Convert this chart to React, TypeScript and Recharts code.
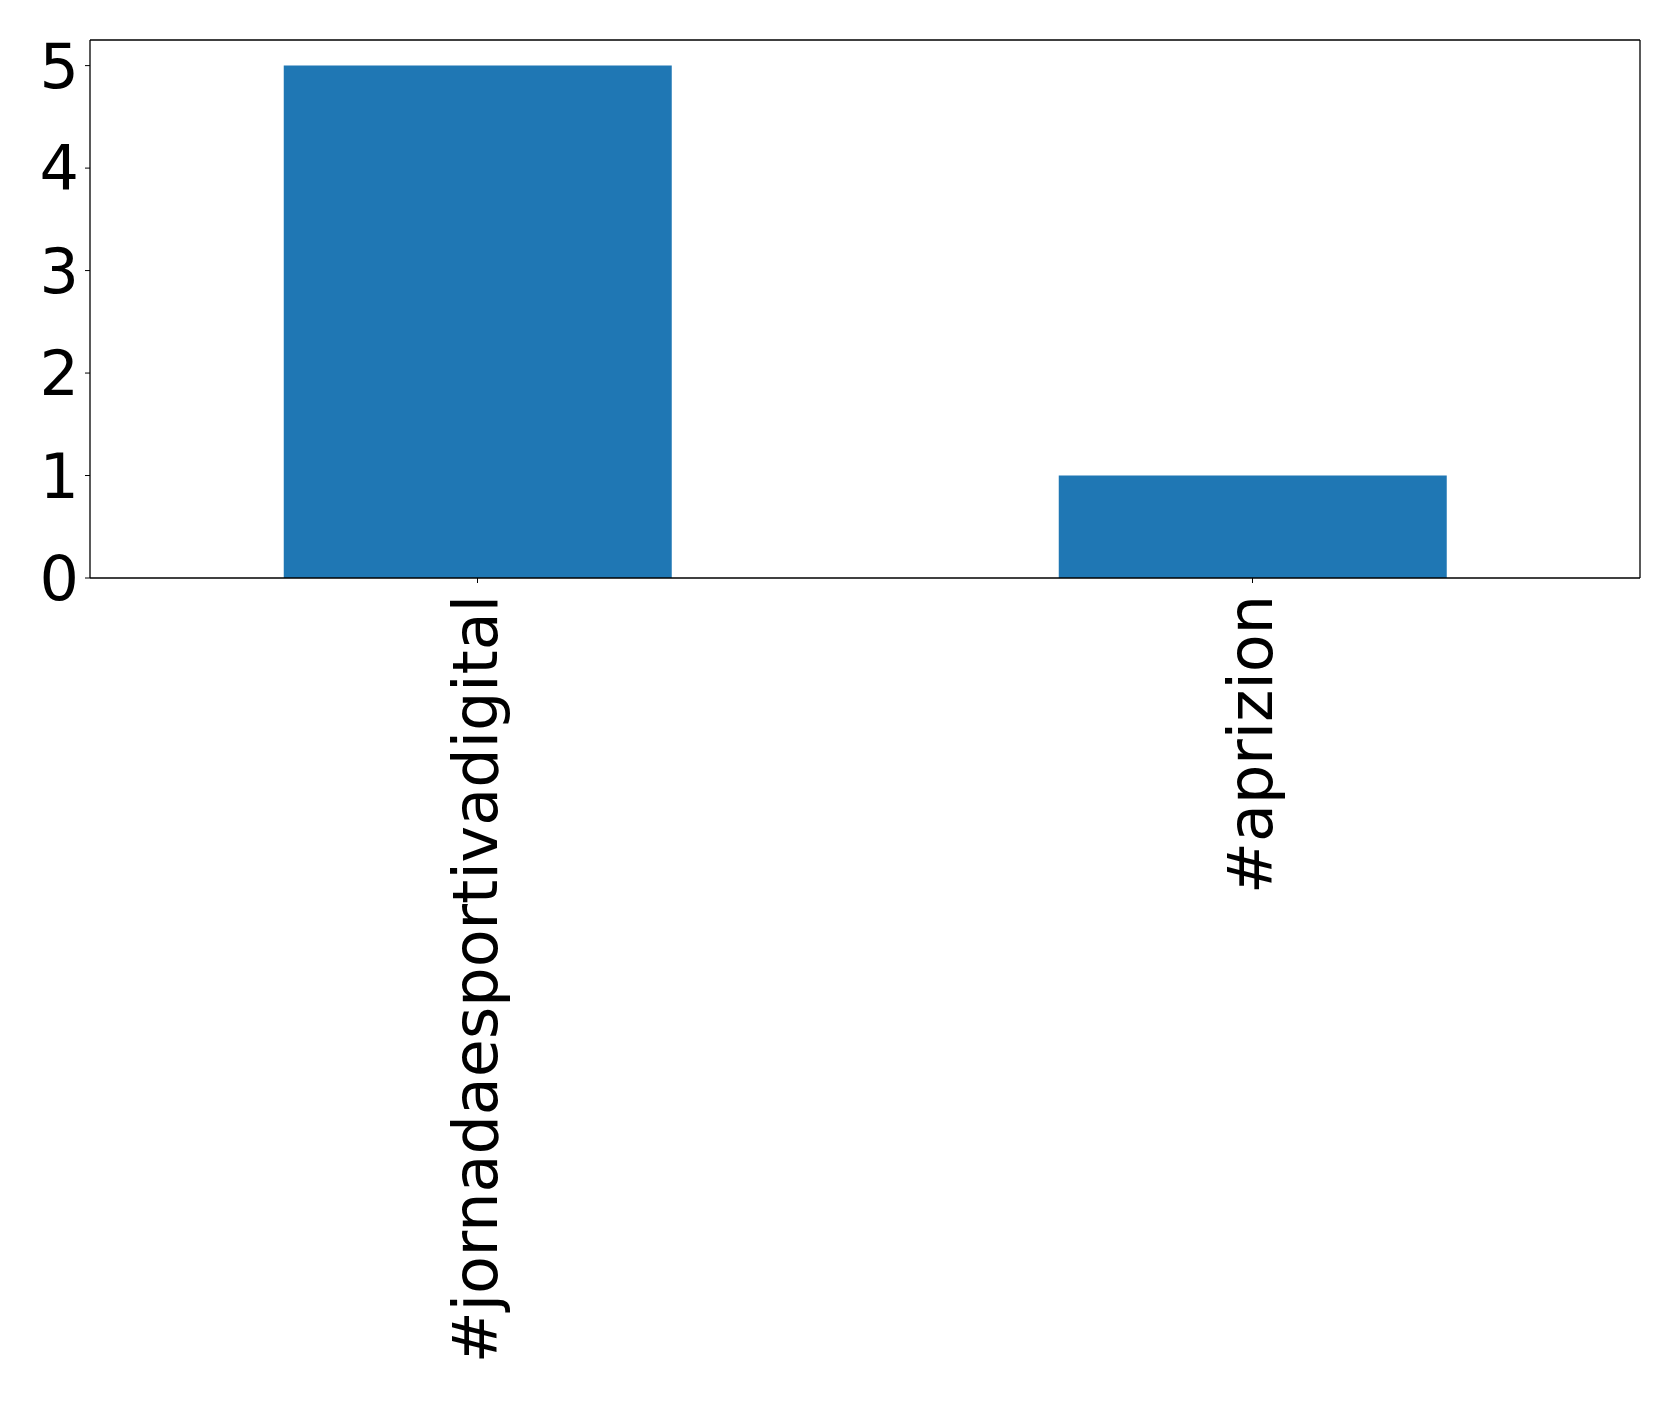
import React from "react";
import { BarChart, Bar, XAxis, YAxis } from "recharts";

const hashtags = ["#jornadaesportivadigital", "#aprizion"];
const counts = [5, 1];
const yTicks = [0, 1, 2, 3, 4, 5];

const data = hashtags.map((tag, i) => ({ tag, count: counts[i] }));

const FONT = "'DejaVu Sans', sans-serif";
const frame = { stroke: "#000", strokeWidth: 1.3 };

function RotatedTick(props: any) {
  const { x, y, payload } = props;
  return (
    <g transform={`translate(${x},${y})`}>
      <text
        transform="rotate(-90)"
        textAnchor="end"
        dy="0.32em"
        fontSize={62}
        fontFamily={FONT}
        fill="#000"
      >
        {payload.value}
      </text>
    </g>
  );
}

export default function App() {
  return (
    <div style={{ position: "absolute", left: 0, top: 0, background: "#fff" }}>
      <BarChart
        width={1679}
        height={1402}
        data={data}
        margin={{ top: 39, right: 38, bottom: 0, left: 0 }}
        barCategoryGap="25%"
      >
        <XAxis
          dataKey="tag"
          height={824}
          interval={0}
          tickSize={5}
          tickMargin={12}
          axisLine={frame}
          tickLine={{ stroke: "#000" }}
          tick={<RotatedTick />}
        />
        <XAxis xAxisId="top" dataKey="tag" orientation="top" height={1} tick={false} tickLine={false} axisLine={frame} />
        <YAxis
          width={90}
          domain={[0, 5.25]}
          ticks={yTicks}
          tickSize={5}
          tickMargin={6}
          axisLine={frame}
          tickLine={{ stroke: "#000" }}
          tick={{ fontSize: 62, fill: "#000", fontFamily: FONT }}
        />
        <YAxis yAxisId="right" orientation="right" width={1} domain={[0, 5.25]} tick={false} tickLine={false} axisLine={frame} />
        <Bar dataKey="count" fill="#1f77b4" isAnimationActive={false} />
      </BarChart>
    </div>
  );
}
